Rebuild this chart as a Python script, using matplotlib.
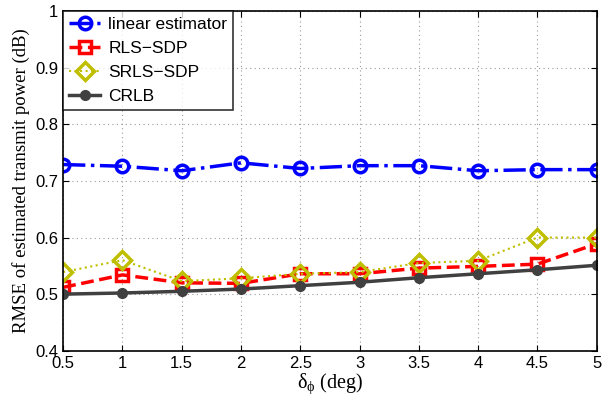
import numpy as np
import matplotlib.pyplot as plt

# data
delta_phi = [0.5, 1, 1.5, 2, 2.5, 3, 3.5, 4, 4.5, 5]
linear_est = [0.729, 0.726, 0.718, 0.732, 0.722, 0.727, 0.727, 0.718, 0.720, 0.720]
rls_sdp = [0.512, 0.534, 0.520, 0.519, 0.536, 0.536, 0.546, 0.549, 0.553, 0.589]
srls_sdp = [0.539, 0.560, 0.523, 0.528, 0.536, 0.539, 0.555, 0.559, 0.600, 0.600]
crlb = [0.500, 0.502, 0.505, 0.509, 0.515, 0.521, 0.529, 0.536, 0.543, 0.551]

yticks = [0.4, 0.5, 0.6, 0.7, 0.8, 0.9, 1.0]
xticks = [0.5, 1, 1.5, 2, 2.5, 3, 3.5, 4, 4.5, 5]

plt.rcParams['font.family'] = ['Liberation Sans', 'DejaVu Sans']
plt.rcParams['mathtext.fontset'] = 'custom'
plt.rcParams['mathtext.rm'] = 'Liberation Serif'

fig = plt.figure(figsize=(6.07, 3.99), dpi=100)
ax = fig.add_axes([0.104, 0.121, 0.879, 0.851])

ax.plot(delta_phi, linear_est, color='#0000ff', linestyle='-.', linewidth=2.5,
        marker='o', markersize=9, markerfacecolor='none', markeredgewidth=2.5,
        label='linear estimator')
ax.plot(delta_phi, rls_sdp, color='#ff0000', linestyle='--', linewidth=2.5,
        marker='s', markersize=8, markerfacecolor='none', markeredgewidth=2.5,
        label='RLS\u2212SDP')
ax.plot(delta_phi, srls_sdp, color='#bfbf00', linestyle=':', linewidth=1.5,
        marker='D', markersize=9, markerfacecolor='none', markeredgewidth=2.5,
        label='SRLS\u2212SDP')
ax.plot(delta_phi, crlb, color='#404040', linestyle='-', linewidth=2.5,
        marker='o', markersize=7, markerfacecolor='#404040',
        label='CRLB')

ax.set_xlim(0.5, 5)
ax.set_ylim(0.4, 1.0)
ax.set_xticks(xticks)
ax.set_xticklabels([f'{v:g}' for v in xticks])
ax.set_yticks(yticks)
ax.set_yticklabels([f'{v:.1f}' if v < 1 else '1' for v in yticks])
ax.tick_params(direction='in', labelsize=12, length=4, top=True, right=True)
ax.grid(True, linestyle=(0, (1, 3)), color='#999999', linewidth=0.8)

for s in ax.spines.values():
    s.set_linewidth(1.2)

ax.set_ylabel('RMSE of estimated transmit power (dB)', family='Liberation Serif', fontsize=13.5)
ax.set_xlabel('$\\mathrm{\u03b4_{\u03d5}}$ (deg)', family='Liberation Serif', fontsize=14.5,
              labelpad=1)

leg = ax.legend(loc='upper left', fontsize=12.5, frameon=True, fancybox=False,
                edgecolor='black', borderaxespad=0.0, handlelength=1.8,
                labelspacing=0.5, borderpad=0.35, handletextpad=0.45)
leg.get_frame().set_linewidth(1.2)

fig.savefig('out.png', dpi=100)
